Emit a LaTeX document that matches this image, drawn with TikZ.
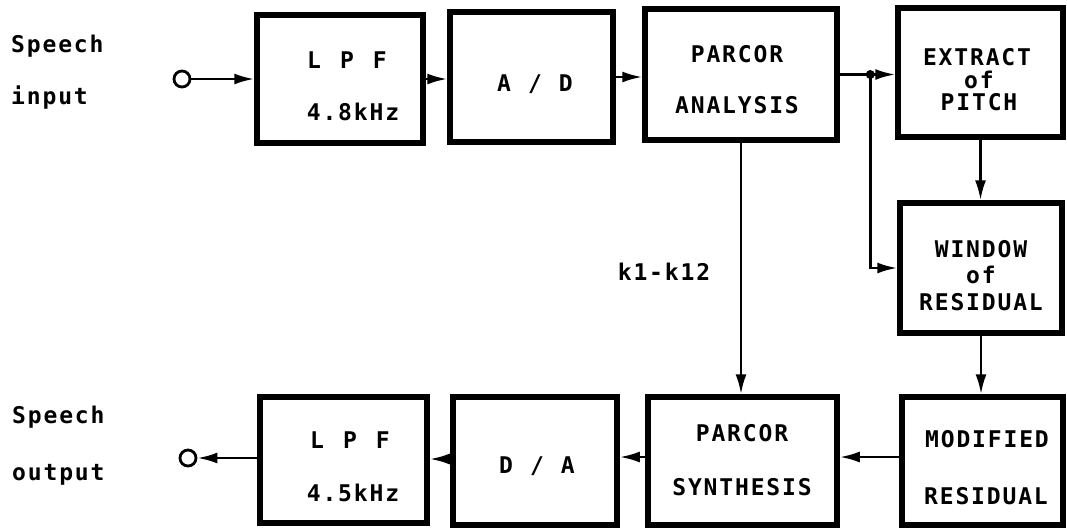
\documentclass[tikz,border=0pt]{standalone}
\usepackage{fontspec}
\newfontfamily\mono[LetterSpace=8]{DejaVu Sans Mono Bold}
\usetikzlibrary{arrows.meta}
\begin{document}
\begin{tikzpicture}[x=1pt,y=-1pt,
  blk/.style={draw, line width=5.5pt, inner sep=0pt, rectangle},
  txt/.style={font=\mono\fontsize{23pt}{26pt}\selectfont, inner sep=0pt, anchor=base},
  ltxt/.style={font=\mono\fontsize{23pt}{26pt}\selectfont, inner sep=0pt, anchor=base west},
  arr/.style={line width=2.6pt, -{Latex[length=20pt,width=11pt]}},
  term/.style={draw, circle, line width=2.8pt, minimum size=16pt, inner sep=0pt}]
\useasboundingbox (0,0) rectangle (1067,528);
% blocks
\node[blk, minimum width=166pt, minimum height=128pt] (lpfin) at (340,79) {};
\node[blk, minimum width=163pt, minimum height=130pt] (ad) at (531.5,77) {};
\node[blk, minimum width=192pt, minimum height=131pt] (pa) at (741,74.5) {};
\node[blk, minimum width=165pt, minimum height=129pt] (ex) at (980.5,72.5) {};
\node[blk, minimum width=162pt, minimum height=130pt] (win) at (981,268) {};
\node[blk, minimum width=161pt, minimum height=128pt] (mod) at (982.5,461) {};
\node[blk, minimum width=189pt, minimum height=128pt] (ps) at (742.5,461) {};
\node[blk, minimum width=164pt, minimum height=128pt] (da) at (535,461) {};
\node[blk, minimum width=167pt, minimum height=126pt] (lpfout) at (343.5,460) {};
% terminals
\node[term] (cin) at (182,79) {};
\node[term] (cout) at (188,458) {};
% texts
\node[ltxt] (sin1) at (11,52) {Speech};
\node[ltxt] (sin2) at (11,104) {input};
\node[ltxt] (sout1) at (12,423) {Speech};
\node[ltxt] (sout2) at (12,480) {output};
\node[txt] (l1a) at (347,68) {L\hspace{19pt}P\hspace{19pt}F};
\node[txt] (l1b) at (353,120) {4.8kHz};
\node[txt] (adt) at (535,91) {A\hspace{17pt}/\hspace{17pt}D};
\node[txt] (pa1) at (737,62) {PARCOR};
\node[txt] (pa2) at (737,113) {ANALYSIS};
\node[txt] (ex1) at (977,65) {EXTRACT};
\node[txt] (ex2) at (979,88) {of};
\node[txt] (ex3) at (979,110) {PITCH};
\node[txt] (w1) at (981,257) {WINDOW};
\node[txt] (w2) at (981,283) {of};
\node[txt] (w3) at (981,310) {RESIDUAL};
\node[txt] (m1) at (987,447) {MODIFIED};
\node[txt] (m2) at (986,504) {RESIDUAL};
\node[txt] (s1) at (742,441) {PARCOR};
\node[txt] (s2) at (742,495) {SYNTHESIS};
\node[txt] (dat) at (537,473) {D\hspace{17pt}/\hspace{17pt}A};
\node[txt] (l2a) at (350,448) {L\hspace{19pt}P\hspace{19pt}F};
\node[txt] (l2b) at (353,501) {4.5kHz};
\node[txt] (kk) at (664,280) {k1-k12};
% connectors
\draw[arr] (cin) -- (lpfin.west |- cin);
\draw[arr] (lpfin.east) -- (lpfin.east -| ad.west);
\draw[arr] (ad.east) -- (ad.east -| pa.west);
\draw[arr] (pa.east) -- (pa.east -| ex.west);
\path (pa.east) -- (pa.east -| ex.west) coordinate[pos=0.55] (j);
\fill (j) circle (4.5pt);
\draw[arr] (j) |- (win.west);
\draw[arr] (ex.south) -- (ex.south |- win.north);
\draw[arr] (win.south) -- (win.south |- mod.north);
\draw[arr] (pa.south) -- (pa.south |- ps.north);
\draw[arr] ([yshift=4pt]mod.west) -- ([yshift=4pt]mod.west -| ps.east);
\draw[arr] ([yshift=4pt]ps.west) -- ([yshift=4pt]ps.west -| da.east);
\draw[arr] ([yshift=2pt]da.west) -- ([yshift=2pt]da.west -| lpfout.east);
\draw[arr] (lpfout.west |- cout) -- (cout);
\end{tikzpicture}
\end{document}
